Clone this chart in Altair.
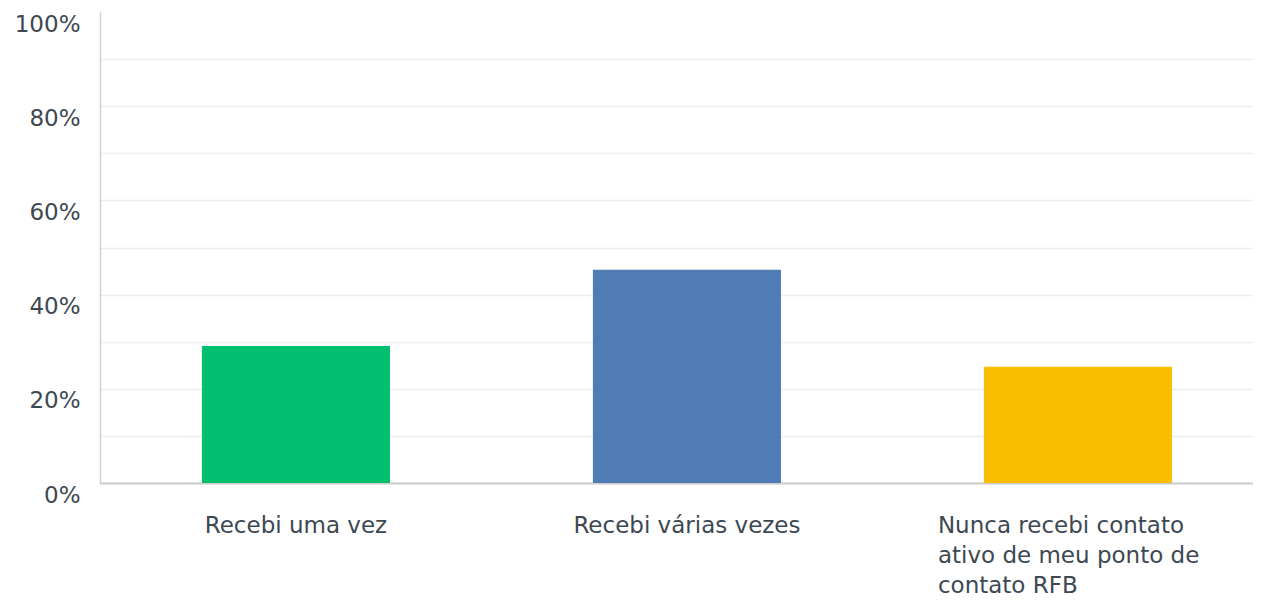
import altair as alt
import pandas as pd

categories = ["Recebi uma vez", "Recebi várias vezes", "Nunca recebi contato|ativo de meu ponto de|contato RFB"]
values = [29.1, 45.3, 24.7]
colors = ["#00BF6F", "#507CB6", "#F9BE00"]
y_ticks = [0, 10, 20, 30, 40, 50, 60, 70, 80, 90, 100]

df = pd.DataFrame({"cat": categories, "val": values})

FONT = "DejaVu Sans"
TEXT = "#3d4852"

bars = alt.Chart(df).mark_bar().encode(
    x=alt.X(
        "cat:N",
        sort=None,
        title=None,
        scale=alt.Scale(paddingInner=0.519, paddingOuter=0.234, align=0.557),
        axis=alt.Axis(
            labelAngle=0,
            labelExpr="split(datum.label, '|')",
            labelFont=FONT,
            labelFontSize=23,
            labelColor=TEXT,
            labelLineHeight=30,
            labelBaseline="top",
            labelPadding=31,
            labelAlign={"condition": {"test": "indexof(datum.value, '|') >= 0", "value": "left"}, "value": "center"},
            labelOffset={"condition": {"test": "indexof(datum.value, '|') >= 0", "value": -140}, "value": 0},
            ticks=False,
            domainColor="#cccccc",
            domainWidth=2,
            grid=False,
            labelLimit=400,
        ),
    ),
    y=alt.Y(
        "val:Q",
        title=None,
        scale=alt.Scale(domain=[0, 100], nice=False),
        axis=alt.Axis(
            values=y_ticks,
            labelExpr="datum.value % 20 == 0 ? datum.value + '%' : ''",
            labelFont=FONT,
            labelFontSize=23,
            labelColor=TEXT,
            labelPadding=20,
            labelOffset=12,
            ticks=False,
            domainColor="#d0d0d0",
            domainWidth=1.5,
            gridColor={"condition": {"test": "datum.value == 100", "value": "transparent"}, "value": "#ededed"},
            gridWidth=1.5,
        ),
    ),
    color=alt.Color("cat:N", sort=None, scale=alt.Scale(domain=categories, range=colors), legend=None),
).properties(
    width=1153,
    height=471,
    autosize=alt.AutoSizeParams(type="none"),
    padding={"left": 92, "top": 4, "right": 0, "bottom": 115},
).configure_view(stroke=None)

chart = bars
chart.save("out.html", embed_options={"renderer": "svg", "actions": False})
